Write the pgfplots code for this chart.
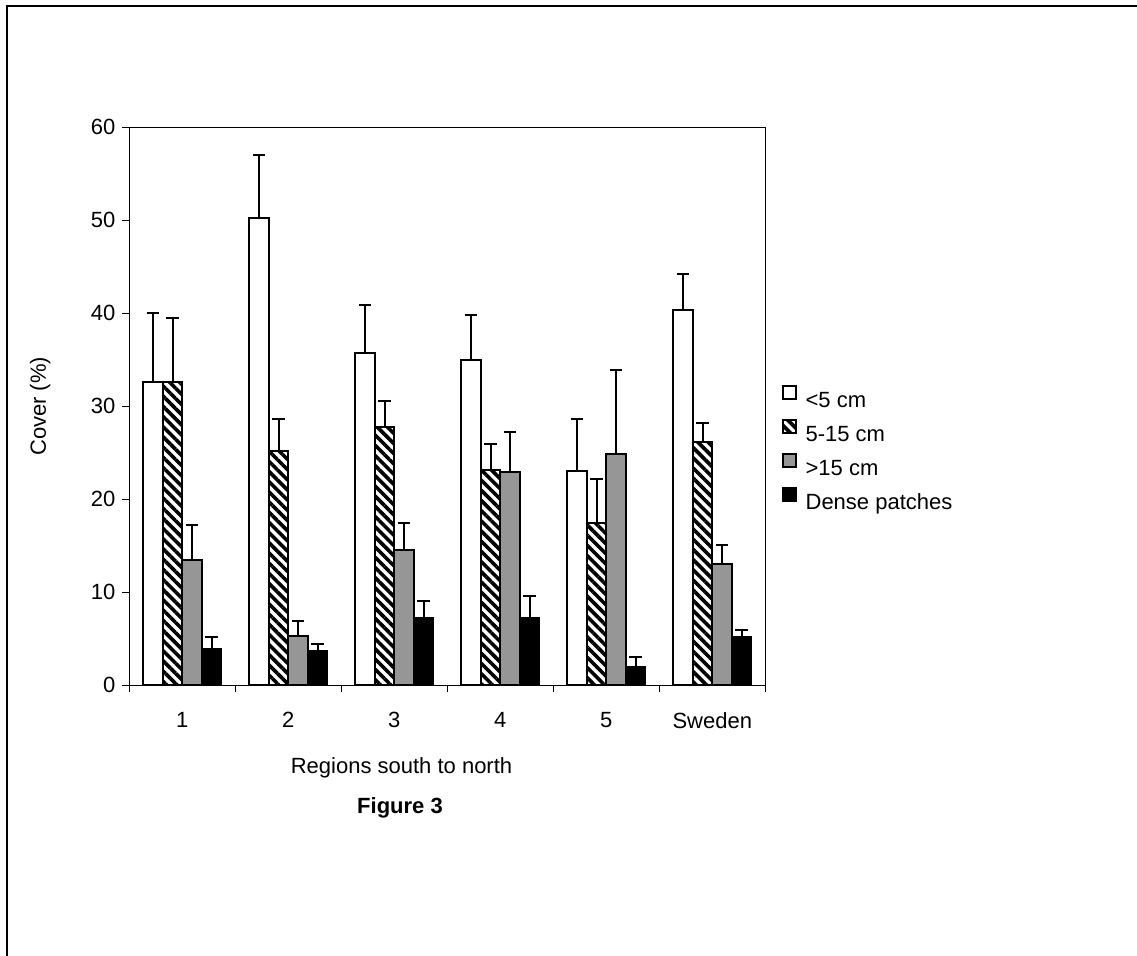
\documentclass[border=0pt]{standalone}
\usepackage{fontspec}
\setmainfont{Liberation Sans}
\usepackage{pgfplots}
\pgfplotsset{compat=1.18}
\usetikzlibrary{patterns.meta}
\definecolor{midgray}{RGB}{150,150,150}
\pgfplotsset{
  sqlegend/.style={legend image code/.code={\draw[##1] (0pt,1pt) rectangle (6.5pt,7.5pt); \path (9pt,3pt);}},
  mybar/.style={ybar, bar width=9.75pt, bar shift=0pt, draw=black, line width=1pt, sqlegend,
    error bars/y dir=plus, error bars/y explicit,
    error bars/error bar style={line width=1pt, black, solid},
    error bars/error mark options={rotate=90, line width=1pt, mark size=3.2pt, black}},
}
\begin{document}
\begin{tikzpicture}[x=0.5pt,y=0.5pt]
\clip (0,0) rectangle (1137,956);
\useasboundingbox (0,0) rectangle (1137,956);
\draw[line width=1.2pt] (7,-20) -- (7,950) -- (1160,950);
\begin{axis}[
  at={(122,291)}, anchor=south west,
  scale only axis, width=318pt, height=279pt,
  xmin=-0.5, xmax=5.5, ymin=0, ymax=60,
  xtick={-0.5,0.5,1.5,2.5,3.5,4.5,5.5},
  xticklabels={1,2,3,4,5,Sweden},
  x tick label as interval,
  xticklabel style={yshift=-6.5pt},
  ytick={0,10,20,30,40,50,60},
  tick pos=left,
  tick align=outside,
  major tick length=3.5pt,
  axis line style={line width=0.8pt},
  every tick/.style={line width=0.8pt, black},
  font=\fontsize{11}{13}\selectfont,
  /pgf/number format/assume math mode=true,
  xlabel={Regions south to north},
  ylabel={Cover (\%)},
  xlabel style={at={(axis description cs:0.428,-0.147)}, anchor=center},
  ylabel style={at={(axis description cs:-0.14,0.5)}, anchor=center},
  legend style={draw=none, fill=none, at={(1.025,0.539)}, anchor=north west,
    font=\fontsize{11}{13}\selectfont, row sep=2.5pt, inner sep=0pt},
  legend cell align=left,
]
\addplot[mybar, fill=white] coordinates {
  (-0.276,32.6) +- (0,7.4) (0.724,50.3) +- (0,6.7) (1.724,35.7) +- (0,5.2)
  (2.724,35.0) +- (0,4.8) (3.724,23.0) +- (0,5.6) (4.724,40.4) +- (0,3.8)};
\addlegendentry{<5 cm}
\addplot[mybar, fill=white,
  postaction={pattern={Lines[angle=-45,distance=3.6pt,line width=1.8pt]}}] coordinates {
  (-0.092,32.6) +- (0,6.9) (0.908,25.2) +- (0,3.4) (1.908,27.8) +- (0,2.8)
  (2.908,23.2) +- (0,2.8) (3.908,17.5) +- (0,4.7) (4.908,26.2) +- (0,2.0)};
\addlegendentry{5-15 cm}
\addplot[mybar, fill=midgray] coordinates {
  (0.092,13.5) +- (0,3.7) (1.092,5.3) +- (0,1.6) (2.092,14.6) +- (0,2.9)
  (3.092,22.9) +- (0,4.3) (4.092,24.9) +- (0,9.0) (5.092,13.1) +- (0,2.0)};
\addlegendentry{>15 cm}
\addplot[mybar, fill=black] coordinates {
  (0.276,3.9) +- (0,1.3) (1.276,3.7) +- (0,0.8) (2.276,7.2) +- (0,1.9)
  (3.276,7.2) +- (0,2.4) (4.276,2.0) +- (0,1.0) (5.276,5.2) +- (0,0.8)};
\addlegendentry{Dense patches}
\end{axis}
\node[font=\fontsize{11}{13}\selectfont\bfseries] at (400,148) {Figure 3};
\end{tikzpicture}
\end{document}
